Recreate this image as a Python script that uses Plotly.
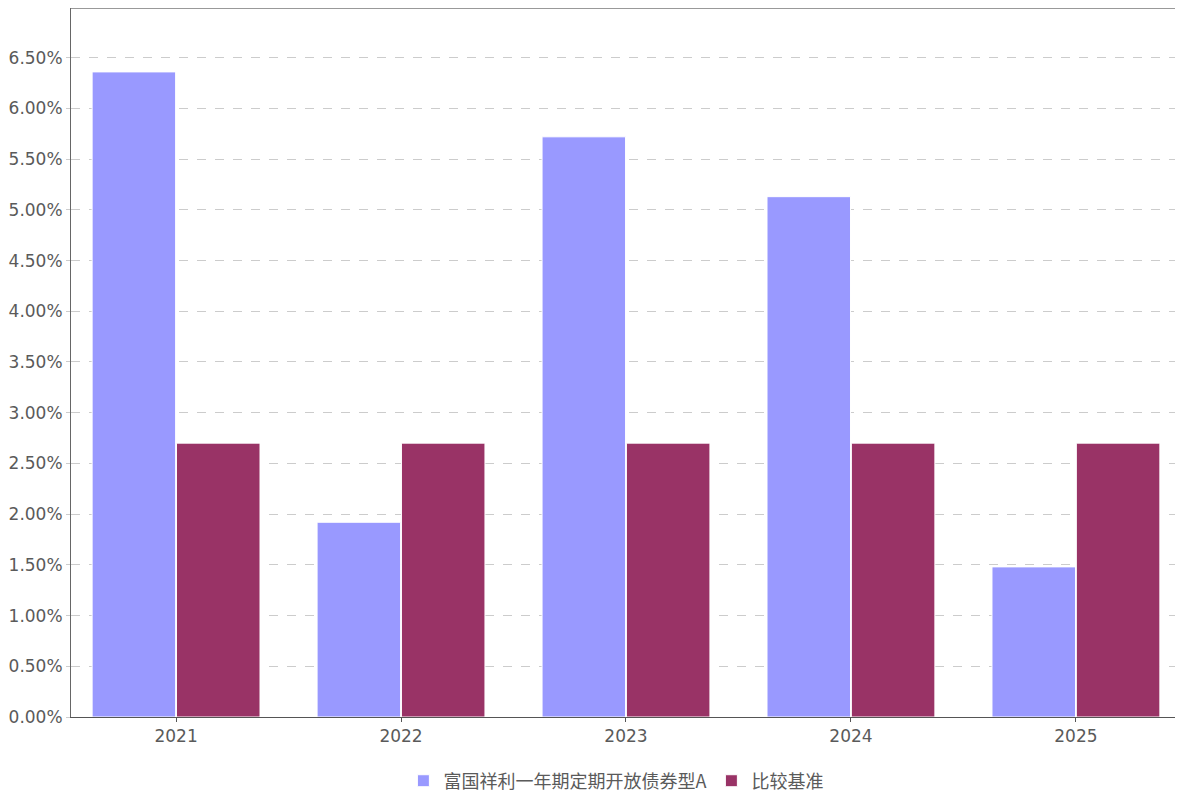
import plotly.graph_objects as go

# yearly returns, percent
years = ["2021", "2022", "2023", "2024", "2025"]
fund_returns = [6.36, 1.92, 5.72, 5.13, 1.48]
benchmark_returns = [2.70, 2.70, 2.70, 2.70, 2.70]
fund_name = "富国祥利一年期定期开放债券型A"
benchmark_name = "比较基准"
y_ticks = [0.0, 0.5, 1.0, 1.5, 2.0, 2.5, 3.0, 3.5, 4.0, 4.5, 5.0, 5.5, 6.0, 6.5]

FONT = "DejaVu Sans"
TEXT_GREY = "#5a5a5a"

fig = go.Figure()
fig.add_trace(go.Bar(
        x=years, y=fund_returns, name=fund_name,
        marker=dict(color="#9999FF", line=dict(color="white", width=1)),
))
fig.add_trace(go.Bar(
        x=years, y=benchmark_returns, name=benchmark_name,
        marker=dict(color="#993366", line=dict(color="white", width=1)),
))

# page body keeps its default 8px margin, so the figure is offset by 8px
fig.update_layout(
        width=1175, height=792,
        margin=dict(l=63, r=0, t=0, b=83),
        paper_bgcolor="white", plot_bgcolor="white",
        barmode="group", bargap=0.25, bargroupgap=0.01,
        font=dict(family=FONT, size=17, color=TEXT_GREY),
        legend=dict(
                orientation="h", x=0.49, xanchor="center", y=-0.0903, yanchor="middle",
                font=dict(family="Noto Sans CJK SC", size=18, color=TEXT_GREY),
                traceorder="normal",
        ),
        showlegend=True,
)

fig.update_xaxes(
        range=[-0.467, 4.476],
        showline=True, linecolor="#555555", linewidth=1,
        ticks="outside", ticklen=4, tickcolor="#555555",
        showgrid=False, tickfont=dict(family=FONT, size=17, color=TEXT_GREY),
)
fig.update_yaxes(
        range=[0, 6.99],
        tickvals=y_ticks, ticktext=["%.2f%%" % v for v in y_ticks],
        showline=True, linecolor="#666666", linewidth=1,
        ticks="outside", ticklen=4, tickcolor="#cccccc",
        showgrid=True, gridcolor="#cccccc", griddash="dash", gridwidth=1,
        zeroline=False,
        tickfont=dict(family=FONT, size=17, color=TEXT_GREY),
)

# grey border along the top of the plot area
fig.add_shape(type="line", xref="paper", yref="paper", x0=0, x1=1, y0=1, y1=1,
              line=dict(color="#999999", width=2))

fig.write_html("out.html")
